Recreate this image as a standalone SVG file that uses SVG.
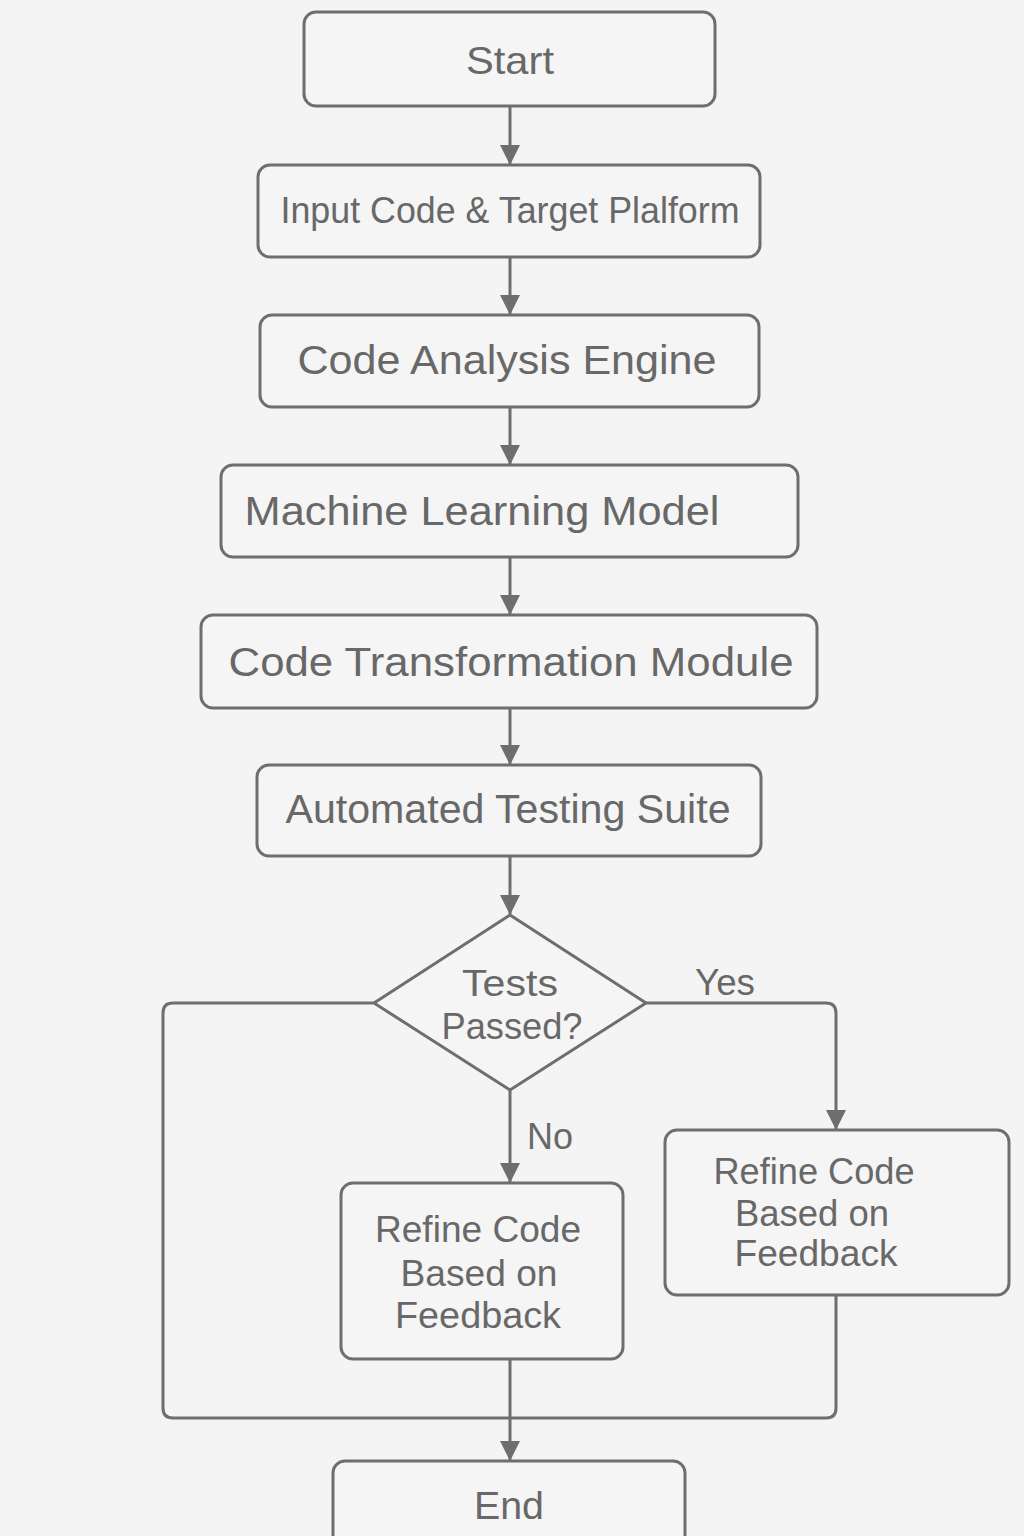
<svg xmlns="http://www.w3.org/2000/svg" width="1024" height="1536" viewBox="0 0 1024 1536">
<defs>
<marker id="ah" markerWidth="20" markerHeight="20" refX="19" refY="10" orient="auto" markerUnits="userSpaceOnUse">
<path d="M0,0 L20,10 L0,20 Z" fill="#6e6e6e"/>
</marker>
<style>
.box{fill:#f5f5f5;stroke:#6e6e6e;stroke-width:3}
.t{font-family:"Liberation Sans",Arial,sans-serif;fill:#686868;text-anchor:middle}
.c{fill:none;stroke:#6e6e6e;stroke-width:3}
</style>
</defs>
<rect width="1024" height="1536" fill="#f4f4f5"/>
<g id="connectors">
<line class="c" x1="510" y1="106" x2="510" y2="164" marker-end="url(#ah)"/>
<line class="c" x1="510" y1="257" x2="510" y2="314" marker-end="url(#ah)"/>
<line class="c" x1="510" y1="407" x2="510" y2="464" marker-end="url(#ah)"/>
<line class="c" x1="510" y1="557" x2="510" y2="614" marker-end="url(#ah)"/>
<line class="c" x1="510" y1="708" x2="510" y2="764" marker-end="url(#ah)"/>
<line class="c" x1="510" y1="856" x2="510" y2="914" marker-end="url(#ah)"/>
<path class="c" d="M646,1003 H826 Q836,1003 836,1013 V1129" marker-end="url(#ah)"/>
<line class="c" x1="510" y1="1090" x2="510" y2="1182" marker-end="url(#ah)"/>
<path class="c" d="M374,1003 H173 Q163,1003 163,1013 V1408 Q163,1418 173,1418 H826 Q836,1418 836,1408 V1295"/>
<line class="c" x1="510" y1="1359" x2="510" y2="1460" marker-end="url(#ah)"/>
<text class="t" x="725" y="995" font-size="37" textLength="60" lengthAdjust="spacingAndGlyphs">Yes</text>
<text class="t" x="550" y="1149" font-size="37" textLength="46" lengthAdjust="spacingAndGlyphs">No</text>
</g>
<g id="start">
<rect class="box" x="304" y="12" width="411" height="94" rx="12"/>
<text class="t" x="510" y="74" font-size="39" textLength="88" lengthAdjust="spacingAndGlyphs">Start</text>
</g>
<g id="input">
<rect class="box" x="258" y="165" width="502" height="92" rx="12"/>
<text class="t" x="510" y="223" font-size="36" textLength="459" lengthAdjust="spacingAndGlyphs">Input Code &amp; Target Plalform</text>
</g>
<g id="analysis">
<rect class="box" x="260" y="315" width="499" height="92" rx="12"/>
<text class="t" x="507" y="374" font-size="41" textLength="419" lengthAdjust="spacingAndGlyphs">Code Analysis Engine</text>
</g>
<g id="ml">
<rect class="box" x="221" y="465" width="577" height="92" rx="12"/>
<text class="t" x="482" y="525" font-size="41" textLength="475" lengthAdjust="spacingAndGlyphs">Machine Learning Model</text>
</g>
<g id="transform">
<rect class="box" x="201" y="615" width="616" height="93" rx="12"/>
<text class="t" x="511" y="676" font-size="41" textLength="565" lengthAdjust="spacingAndGlyphs">Code Transformation Module</text>
</g>
<g id="testing">
<rect class="box" x="257" y="765" width="504" height="91" rx="12"/>
<text class="t" x="508" y="823" font-size="40" textLength="445" lengthAdjust="spacingAndGlyphs">Automated Testing Suite</text>
</g>
<g id="decision">
<polygon class="box" points="510,915 646,1003 510,1090 374,1003"/>
<text class="t" x="510" y="996" font-size="37" textLength="96" lengthAdjust="spacingAndGlyphs">Tests</text>
<text class="t" x="512" y="1039" font-size="37" textLength="141" lengthAdjust="spacingAndGlyphs">Passed?</text>
</g>
<g id="refine-no">
<rect class="box" x="341" y="1183" width="282" height="176" rx="12"/>
<text class="t" x="478" y="1242" font-size="37" textLength="206" lengthAdjust="spacingAndGlyphs">Refine Code</text>
<text class="t" x="479" y="1286" font-size="37" textLength="157" lengthAdjust="spacingAndGlyphs">Based on</text>
<text class="t" x="478" y="1328" font-size="37" textLength="166" lengthAdjust="spacingAndGlyphs">Feedback</text>
</g>
<g id="refine-yes">
<rect class="box" x="665" y="1130" width="344" height="165" rx="12"/>
<text class="t" x="814" y="1184" font-size="37" textLength="201" lengthAdjust="spacingAndGlyphs">Refine Code</text>
<text class="t" x="812" y="1226" font-size="37" textLength="154" lengthAdjust="spacingAndGlyphs">Based on</text>
<text class="t" x="816" y="1266" font-size="37" textLength="163" lengthAdjust="spacingAndGlyphs">Feedback</text>
</g>
<g id="end">
<rect class="box" x="333" y="1461" width="352" height="100" rx="12"/>
<text class="t" x="509" y="1519" font-size="39" textLength="70" lengthAdjust="spacingAndGlyphs">End</text>
</g>
</svg>
